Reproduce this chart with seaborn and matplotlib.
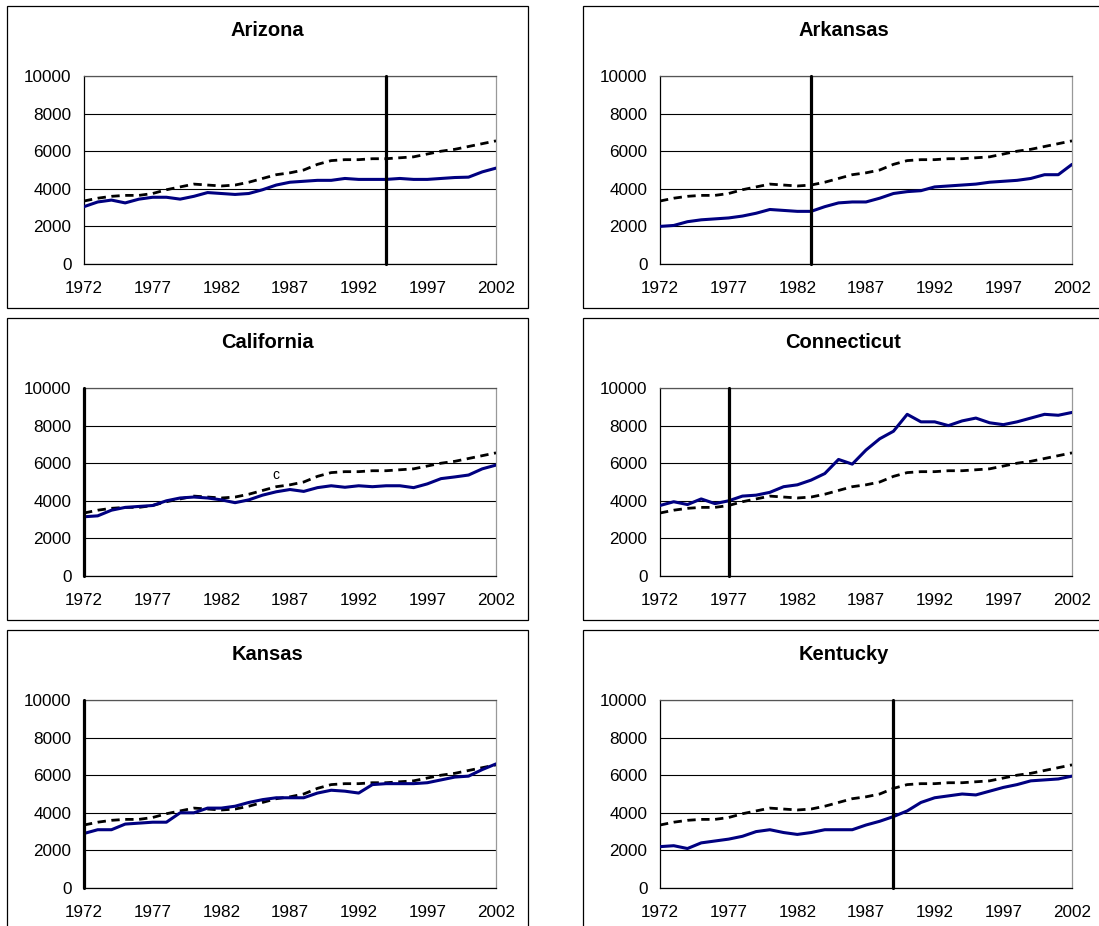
import matplotlib
matplotlib.use("Agg")
import matplotlib.pyplot as plt
from matplotlib.patches import Rectangle
import seaborn as sns

years = list(range(1972, 2003))

# national average (dashed, same in every panel)
national = [3350, 3500, 3600, 3650, 3650, 3750, 3950, 4100, 4250, 4200, 4150,
            4200, 4350, 4550, 4750, 4850, 5000, 5300, 5500, 5550, 5550, 5600,
            5600, 5650, 5700, 5850, 6000, 6100, 6250, 6400, 6550]

arizona = [3050, 3300, 3400, 3250, 3450, 3550, 3550, 3450, 3600, 3800, 3750,
           3700, 3750, 3950, 4200, 4350, 4400, 4450, 4450, 4550, 4500, 4500,
           4500, 4550, 4500, 4500, 4550, 4600, 4620, 4900, 5100]
arkansas = [2000, 2050, 2250, 2350, 2400, 2450, 2550, 2700, 2900, 2850, 2800,
            2800, 3050, 3250, 3300, 3300, 3500, 3750, 3850, 3900, 4100, 4150,
            4200, 4250, 4350, 4400, 4450, 4550, 4750, 4750, 5300]
california = [3150, 3200, 3500, 3650, 3700, 3750, 4000, 4150, 4200, 4150, 4050,
              3900, 4050, 4300, 4480, 4600, 4500, 4700, 4800, 4720, 4800, 4750,
              4800, 4800, 4700, 4900, 5180, 5270, 5370, 5700, 5900]
connecticut = [3750, 3950, 3800, 4100, 3850, 4000, 4250, 4300, 4450, 4750, 4850,
               5100, 5450, 6200, 5950, 6700, 7300, 7700, 8600, 8200, 8200, 8000,
               8250, 8400, 8150, 8050, 8200, 8400, 8600, 8550, 8700]
kansas = [2900, 3100, 3100, 3400, 3450, 3500, 3500, 4000, 4000, 4250, 4250,
          4350, 4550, 4700, 4800, 4800, 4800, 5050, 5200, 5150, 5050, 5500,
          5550, 5550, 5550, 5600, 5750, 5900, 5950, 6300, 6600]
kentucky = [2200, 2250, 2100, 2400, 2500, 2600, 2750, 3000, 3100, 2950, 2850,
            2950, 3100, 3100, 3100, 3350, 3550, 3800, 4100, 4550, 4800, 4900,
            5000, 4950, 5150, 5350, 5500, 5700, 5750, 5800, 5950]

states = ["Arizona", "Arkansas", "California", "Connecticut", "Kansas", "Kentucky"]
series = [arizona, arkansas, california, connecticut, kansas, kentucky]
break_years = [1994, 1983, 1972, 1977, 1972, 1989]

xticks = [1972, 1977, 1982, 1987, 1992, 1997, 2002]
yticks = [0, 2000, 4000, 6000, 8000, 10000]

sns.set_style("white")
plt.rcParams["font.family"] = ["Liberation Sans", "DejaVu Sans"]
plt.rcParams["text.color"] = "black"

W, H = 1099, 926
fig = plt.figure(figsize=(W / 100, H / 100), dpi=100)

ax_left = [84, 660]
ax_top = [76, 388, 700]
frame_left = [7, 583]
frame_top = [6, 318, 630]
ax_w, ax_h = 412, 188
frame_w, frame_h = 521, 302

for i, name in enumerate(states):
    r, c = divmod(i, 2)
    # chart frame
    fig.add_artist(Rectangle((frame_left[c] / W, 1 - (frame_top[r] + frame_h) / H),
                             frame_w / W, frame_h / H, transform=fig.transFigure,
                             fill=False, edgecolor="black", lw=0.9))
    fig.text((frame_left[c] + frame_w / 2) / W, 1 - (frame_top[r] + 25) / H, name,
             ha="center", va="center", fontsize=14.5, fontweight="bold",
             color="black")

    ax = fig.add_axes([ax_left[c] / W, 1 - (ax_top[r] + ax_h) / H, ax_w / W, ax_h / H])
    sns.lineplot(x=years, y=national, ax=ax, color="black", lw=2.0,
                 linestyle=(0, (3, 2)), zorder=3)
    sns.lineplot(x=years, y=series[i], ax=ax, color="#000080", lw=2.2, zorder=4)
    ax.axvline(break_years[i], color="black", lw=2.3, zorder=5, clip_on=False)

    ax.set_xlim(1972, 2002)
    ax.set_ylim(0, 10000)
    ax.set_xticks(xticks)
    ax.set_yticks(yticks)
    ax.yaxis.grid(True, color="black", lw=0.8)
    ax.xaxis.grid(False)
    ax.set_axisbelow(True)
    ax.tick_params(axis="both", direction="out", length=4, width=0.8,
                   color="black", labelsize=12.3, labelcolor="black")
    ax.tick_params(axis="y", pad=5)
    ax.tick_params(axis="x", pad=8)
    ax.spines["left"].set_color("black")
    ax.spines["bottom"].set_color("black")
    ax.spines["top"].set_color("#555555")
    ax.spines["right"].set_color("#999999")
    for s in ax.spines.values():
        s.set_linewidth(0.9)
    ax.set_xlabel("")
    ax.set_ylabel("")
    if name == "California":
        ax.text(1986, 5350, "c", fontsize=10, ha="center", va="center")

fig.savefig("out.png", dpi=100)
